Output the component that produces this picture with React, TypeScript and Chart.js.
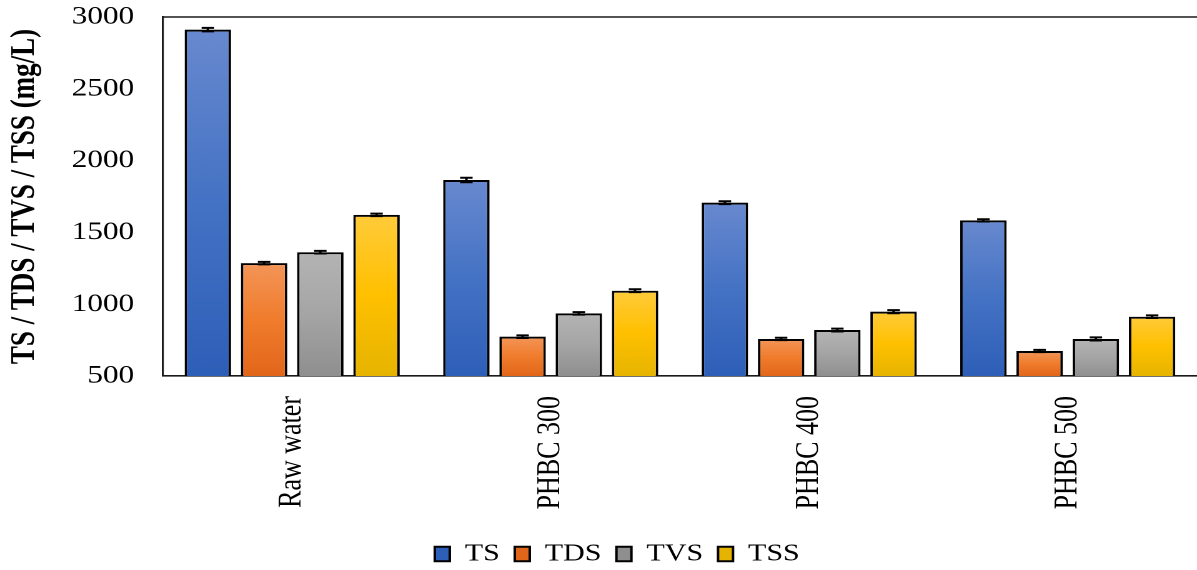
import React, { useEffect, useRef } from "react";
import { Chart, registerables } from "chart.js";

Chart.register(...registerables);

// ---- data ----
const categories = ["Raw water", "PHBC 300", "PHBC 400", "PHBC 500"];
const seriesNames = ["TS", "TDS", "TVS", "TSS"];
const tsValues = [2912, 1865, 1707, 1584];
const tdsValues = [1286, 774, 758, 674];
const tvsValues = [1362, 936, 820, 758];
const tssValues = [1622, 1094, 948, 913];
const tsErrors = [12, 16, 10, 8];
const tdsErrors = [9, 9, 8, 8];
const tvsErrors = [9, 9, 10, 11];
const tssErrors = [9, 10, 11, 9];
const yTicks = [500, 1000, 1500, 2000, 2500, 3000];
const yTitle = "TS / TDS / TVS / TSS (mg/L)";

// ---- styles ----
const FONT = "'Liberation Serif', 'Times New Roman', serif";
const STRETCH_W = 958; // drawing width before horizontal stretch
const OUT_W = 1197;
const OUT_H = 570;
const PAD_LEFT = 30;
const palette = [
  { solid: "#4472c4", light: "#6889cf", mid: "#4472c4", dark: "#2e5fb8" },
  { solid: "#ed7d31", light: "#f39558", mid: "#f07c2c", dark: "#e2661a" },
  { solid: "#a5a5a5", light: "#b4b4b4", mid: "#a5a5a5", dark: "#8f8f8f" },
  { solid: "#ffc000", light: "#ffcb3a", mid: "#ffc000", dark: "#e6b400" },
];

const seriesValues = [tsValues, tdsValues, tvsValues, tssValues];
const seriesErrors = [tsErrors, tdsErrors, tvsErrors, tssErrors];

const errorBarPlugin = {
  id: "errorBars",
  afterDatasetsDraw(chart: any) {
    const { ctx } = chart;
    const ys = chart.scales.y;
    chart.data.datasets.forEach((ds: any, di: number) => {
      const meta = chart.getDatasetMeta(di);
      meta.data.forEach((el: any, i: number) => {
        const v = ds.data[i];
        const e = ds.errors[i];
        const yt = ys.getPixelForValue(v + e);
        const yb = ys.getPixelForValue(v - e);
        const x = el.x;
        ctx.save();
        ctx.strokeStyle = "#000";
        ctx.lineWidth = 2;
        ctx.beginPath();
        ctx.moveTo(x, yt);
        ctx.lineTo(x, yb);
        ctx.moveTo(x - 5, yt);
        ctx.lineTo(x + 5, yt);
        ctx.moveTo(x - 5, yb);
        ctx.lineTo(x + 5, yb);
        ctx.stroke();
        ctx.restore();
      });
    });
  },
};

const topBorderPlugin = {
  id: "topBorder",
  afterDraw(chart: any) {
    const { ctx, chartArea } = chart;
    ctx.save();
    ctx.strokeStyle = "#1a1a1a";
    ctx.lineWidth = 1.6;
    ctx.beginPath();
    ctx.moveTo(chartArea.left, chartArea.top);
    ctx.lineTo(chartArea.right, chartArea.top);
    ctx.stroke();
    ctx.restore();
  },
};

export default function App() {
  const canvasRef = useRef<HTMLCanvasElement | null>(null);

  useEffect(() => {
    if (!canvasRef.current) return;
    const datasets = seriesNames.map((name, si) => {
      const p = palette[si];
      return {
        label: name,
        data: seriesValues[si],
        errors: seriesErrors[si],
        borderColor: "#000",
        borderWidth: 2,
        borderSkipped: false,
        backgroundColor: (c: any) => {
          const chart = c.chart;
          const ys = chart.scales && chart.scales.y;
          if (c.type !== "data" || !ys || !chart.chartArea) return p.solid;
          const top = ys.getPixelForValue(c.raw);
          const bot = ys.getPixelForValue(ys.min);
          if (!isFinite(top) || !isFinite(bot) || bot - top < 1) return p.solid;
          const g = chart.ctx.createLinearGradient(0, top, 0, bot);
          g.addColorStop(0, p.light);
          g.addColorStop(0.5, p.mid);
          g.addColorStop(1, p.dark);
          return g;
        },
        barPercentage: 0.826,
        categoryPercentage: 0.87,
      };
    });

    const chart = new Chart(canvasRef.current, {
      type: "bar",
      data: { labels: categories, datasets: datasets as any },
      plugins: [errorBarPlugin, topBorderPlugin],
      options: {
        animation: false,
        responsive: false,
        devicePixelRatio: 2,
        layout: { padding: { top: 17, left: PAD_LEFT, right: 0, bottom: -6 } },
        scales: {
          x: {
            grid: { display: false, drawTicks: false },
            border: { display: true, color: "#1a1a1a", width: 1.6 },
            ticks: {
              color: "#000",
              font: { family: FONT, size: 26 },
              minRotation: 90,
              maxRotation: 90,
              autoSkip: false,
              padding: 20,
            },
            afterFit: (scale: any) => {
              const lg = scale.chart.legend;
              const lh = lg && lg.height ? lg.height : 44;
              scale.height = OUT_H + 6 - 376 - lh;
            },
          },
          y: {
            min: yTicks[0],
            max: yTicks[yTicks.length - 1],
            grid: { display: false, drawTicks: true, tickLength: 21 },
            border: { display: true, color: "#1a1a1a", width: 1.6 },
            ticks: {
              stepSize: yTicks[1] - yTicks[0],
              color: "#000",
              font: { family: FONT, size: 25 },
              padding: 2,
              callback: (v: any) => String(v),
            },
            title: {
              display: true,
              text: yTitle,
              color: "#000",
              font: { family: FONT, size: 27, weight: "bold" },
              padding: { top: 4 - PAD_LEFT, bottom: 0 },
            },
            afterFit: (scale: any) => {
              scale.width = 130.4 - PAD_LEFT;
            },
          },
        },
        plugins: {
          legend: {
            position: "bottom",
            labels: {
              color: "#000",
              font: { family: FONT, size: 24 },
              boxWidth: 12,
              boxHeight: 14.5,
              padding: 12,
            },
          },
          tooltip: { enabled: false },
        },
      } as any,
    });
    return () => chart.destroy();
  }, []);

  return (
    <div
      style={{
        position: "absolute",
        left: 0,
        top: 0,
        width: OUT_W,
        height: OUT_H,
        overflow: "hidden",
        background: "#fff",
      }}
    >
      <canvas
        ref={canvasRef}
        width={STRETCH_W}
        height={OUT_H}
        style={{
          width: STRETCH_W,
          height: OUT_H,
          transform: `scaleX(${OUT_W / STRETCH_W})`,
          transformOrigin: "0 0",
          display: "block",
        }}
      />
    </div>
  );
}
